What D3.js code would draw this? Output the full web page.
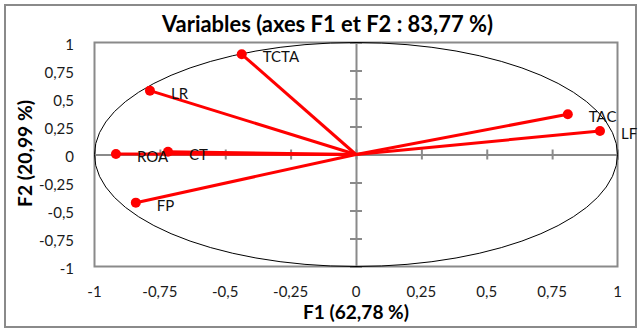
<!DOCTYPE html>
<html lang="fr">
<head>
<meta charset="UTF-8">
<title>Variables (axes F1 et F2)</title>
<script src="https://cdn.jsdelivr.net/npm/d3@7/dist/d3.min.js"></script>
<style>
    body { margin: 0; background: #fff; }
    svg { display: block; font-family: Lato, "Open Sans", sans-serif; }
    .tick-label { font-size: 15px; fill: #1a1a1a; }
    .var-label { font-size: 15px; fill: #111; }
</style>
</head>
<body>
<script>
    // variables (coordonnées sur F1 / F2)
    const varNames = ['TCTA', 'LR', 'ROA', 'CT', 'FP', 'TAC', 'LF'];
    const f1Values = [-0.437, -0.788, -0.918, -0.719, -0.842, 0.810, 0.933];
    const f2Values = [0.895, 0.570, 0.004, 0.025, -0.430, 0.359, 0.210];

    const tickValues = [-1, -0.75, -0.5, -0.25, 0, 0.25, 0.5, 0.75, 1];
    const titleText = 'Variables (axes F1 et F2 : 83,77 %)';
    const xTitleText = 'F1 (62,78 %)';
    const yTitleText = 'F2 (20,99 %)';

    const width = 643;
    const height = 329;

    const svg = d3.select('body').append('svg')
        .attr('width', width)
        .attr('height', height);

    // cadre du graphique
    svg.append('rect')
        .attr('x', 5).attr('y', 5)
        .attr('width', 631).attr('height', 322)
        .attr('fill', '#fff')
        .attr('stroke', '#8a8a8a')
        .attr('stroke-width', 2);

    const x = d3.scaleLinear().domain([-1, 1]).range([94.5, 617.5]);
    const y = d3.scaleLinear().domain([-1, 1]).range([266.5, 42.5]);

    const fmt = v => String(v).replace('.', ',');

    // zone de traçage
    svg.append('rect')
        .attr('x', x(-1)).attr('y', y(1))
        .attr('width', x(1) - x(-1)).attr('height', y(-1) - y(1))
        .attr('fill', 'none')
        .attr('stroke', '#8a8a8a')
        .attr('stroke-width', 2);

    // axes passant par l'origine
    const axisX = svg.append('g')
        .attr('transform', 'translate(0,' + y(0) + ')')
        .call(d3.axisBottom(x).tickValues(tickValues).tickSize(5).tickFormat(''));
    axisX.selectAll('.tick line').attr('y1', -5);
    const axisY = svg.append('g')
        .attr('transform', 'translate(' + x(0) + ',0)')
        .call(d3.axisLeft(y).tickValues(tickValues).tickSize(6).tickFormat(''));
    axisY.selectAll('.tick line').attr('x1', 6);
    svg.selectAll('.domain, .tick line')
        .attr('stroke', '#8a8a8a')
        .attr('stroke-width', 2);

    // étiquettes des graduations (en bas et à gauche)
    svg.append('g').selectAll('text')
        .data(tickValues).join('text')
        .attr('class', 'tick-label')
        .attr('x', d => x(d))
        .attr('y', 290.5)
        .attr('text-anchor', 'middle')
        .attr('dominant-baseline', 'central')
        .text(fmt);
    svg.append('g').selectAll('text')
        .data(tickValues).join('text')
        .attr('class', 'tick-label')
        .attr('x', 74)
        .attr('y', d => y(d) + 1)
        .attr('text-anchor', 'end')
        .attr('dominant-baseline', 'central')
        .text(fmt);

    // cercle des corrélations
    svg.append('ellipse')
        .attr('cx', x(0)).attr('cy', y(0))
        .attr('rx', x(1) - x(0)).attr('ry', y(0) - y(1))
        .attr('fill', 'none')
        .attr('stroke', '#000')
        .attr('stroke-width', 1);

    const points = varNames.map((n, i) => ({ name: n, f1: f1Values[i], f2: f2Values[i] }));

    svg.append('g').selectAll('line')
        .data(points).join('line')
        .attr('x1', x(0)).attr('y1', y(0))
        .attr('x2', d => x(d.f1)).attr('y2', d => y(d.f2))
        .attr('stroke', '#ff0000')
        .attr('stroke-width', 3);

    svg.append('g').selectAll('circle')
        .data(points).join('circle')
        .attr('cx', d => x(d.f1)).attr('cy', d => y(d.f2))
        .attr('r', 5)
        .attr('fill', '#ff0000');

    svg.append('g').selectAll('text')
        .data(points).join('text')
        .attr('class', 'var-label')
        .attr('x', d => x(d.f1) + 21)
        .attr('y', d => y(d.f2) + 2)
        .attr('dominant-baseline', 'central')
        .text(d => d.name);

    // titres, ajustés à la largeur de l'original
    function fitText(sel, target, size) {
        const w = sel.node().getComputedTextLength();
        sel.style('font-size', (size * target / w).toFixed(2) + 'px');
    }

    const title = svg.append('text')
        .attr('x', 327.5).attr('y', 32)
        .attr('text-anchor', 'middle')
        .style('font-weight', 'bold')
        .style('font-size', '20px')
        .attr('fill', '#000')
        .text(titleText);
    fitText(title, 331, 20);

    const xTitle = svg.append('text')
        .attr('x', 356).attr('y', 319)
        .attr('text-anchor', 'middle')
        .style('font-weight', 'bold')
        .style('font-size', '16px')
        .attr('fill', '#000')
        .text(xTitleText);
    fitText(xTitle, 106, 16);

    const yTitle = svg.append('text')
        .attr('transform', 'translate(32,153.5) rotate(-90)')
        .attr('text-anchor', 'middle')
        .style('font-weight', 'bold')
        .style('font-size', '16px')
        .attr('fill', '#000')
        .text(yTitleText);
    fitText(yTitle, 107, 16);
</script>
</body>
</html>
